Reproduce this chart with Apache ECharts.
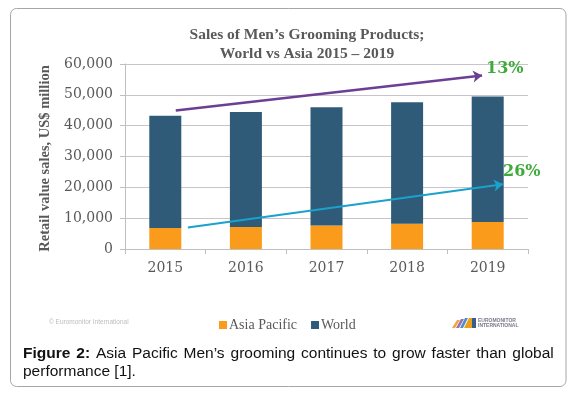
<!DOCTYPE html>
<html>
<head>
<meta charset="utf-8">
<script src="https://cdn.jsdelivr.net/npm/echarts@6/dist/echarts.min.js"></script>
<style>
  html, body { margin: 0; padding: 0; background: #fff; }
  #main { width: 574px; height: 394px; }
</style>
</head>
<body>
<div id="main"></div>
<script>
// values (US$ million)
const years = ['2015', '2016', '2017', '2018', '2019'];
const asiaPacific = [6800, 7100, 7600, 8200, 8750];
const worldRest = [36400, 37300, 38400, 39400, 40700];   // world total minus asia pacific
const yTicks = [0, 10000, 20000, 30000, 40000, 50000, 60000];

// trend arrows, x in category units (0 = 2015)
const worldTrend = [[0.13, 44900], [3.93, 56300]];
const asiaTrend = [[0.28, 7000], [4.19, 21000]];
const growthText = ['13%', '26%'];

const serif = '"DejaVu Serif", serif';
const times = '"Liberation Serif", serif';
const grey = '#595959';

const captionLine1 = ['{b|Figure}', '{b|2:}', 'Asia', 'Pacific', 'Men\u2019s', 'grooming',
    'continues', 'to', 'grow', 'faster', 'than', 'global'].join('{s| }');

const chart = echarts.init(document.getElementById('main'));

chart.setOption({
    animation: false,
    title: {
        text: 'Sales of Men\u2019s Grooming Products;\nWorld vs Asia 2015 \u2013 2019',
        left: 302,
        top: 20,
        textAlign: 'center',
        textStyle: { fontFamily: times, fontWeight: 'bold', fontSize: 15.5, color: grey, lineHeight: 19 }
    },
    legend: {
        data: ['Asia Pacific', 'World'],
        left: 214,
        top: 313,
        icon: 'rect',
        itemWidth: 8,
        itemHeight: 8,
        itemGap: 14,
        textStyle: { fontFamily: times, fontSize: 14, color: grey, padding: [0, 0, 0, -3] }
    },
    grid: { left: 125, right: 46, top: 64, bottom: 145 },
    xAxis: [{
        type: 'category',
        data: years,
        axisLine: { lineStyle: { color: '#bfbfbf' } },
        axisTick: { show: true, length: 5, lineStyle: { color: '#bfbfbf' } },
        axisLabel: { fontFamily: serif, fontSize: 14, color: grey, margin: 12 }
    }, {
        type: 'value',
        min: -0.5,
        max: 4.5,
        show: false
    }],
    yAxis: {
        type: 'value',
        min: 0,
        max: 60000,
        interval: 10000,
        name: 'Retail value sales, US$ million',
        nameLocation: 'middle',
        nameRotate: 90,
        nameGap: 72,
        nameTextStyle: { fontFamily: times, fontWeight: 'bold', fontSize: 14.5, color: grey, padding: [0, 4, 0, 0] },
        axisLine: { show: true, onZero: false, lineStyle: { color: '#bfbfbf' } },
        axisTick: { show: true, length: 5, lineStyle: { color: '#bfbfbf' } },
        splitLine: { lineStyle: { color: '#c9c3cc' } },
        axisLabel: {
            fontFamily: serif, fontSize: 14, color: grey, margin: 12,
            formatter: v => yTicks.includes(v) ? v.toLocaleString('en-US') : ''
        }
    },
    series: [{
        name: 'Asia Pacific',
        type: 'bar',
        stack: 'sales',
        barWidth: 32,
        itemStyle: { color: '#fb9b1b' },
        data: asiaPacific
    }, {
        name: 'World',
        type: 'bar',
        stack: 'sales',
        barWidth: 32,
        itemStyle: { color: '#2f5b78' },
        data: worldRest
    }, {
        type: 'lines',
        coordinateSystem: 'cartesian2d',
        xAxisIndex: 1,
        clip: false,
        symbol: ['none', 'arrow'],
        symbolSize: [7, 9],
        z: 5,
        label: {
            show: true,
            position: 'end',
            formatter: p => p.data.tag,
            fontFamily: serif,
            fontWeight: 'bold',
            fontSize: 16,
            color: '#3eaa3a'
        },
        data: [
            { coords: worldTrend, tag: growthText[0], lineStyle: { color: '#6c3f94', width: 2.5, opacity: 1 },
              label: { offset: [4, -7] } },
            { coords: asiaTrend, tag: growthText[1], lineStyle: { color: '#1aa2cc', width: 2, opacity: 1 },
              label: { offset: [0, -12] } }
        ]
    }],
    graphic: [{
        type: 'rect',
        shape: { x: 10.5, y: 8.5, width: 555.5, height: 378, r: 6 },
        style: { fill: 'none', stroke: '#a6a6a6', lineWidth: 1 },
        silent: true
    }, {
        type: 'text',
        left: 49,
        top: 319,
        style: { text: '\u00a9 Euromonitor International', font: '6.5px "Liberation Sans"', fill: '#bdbdbd' }
    }, {
        type: 'group',
        left: 452,
        top: 318,
        children: [
            { type: 'polygon', shape: { points: [[0, 10], [5, 2], [8, 2], [3, 10]] }, style: { fill: '#f4a340' } },
            { type: 'polygon', shape: { points: [[4, 10], [9, 1], [12, 1], [7, 10]] }, style: { fill: '#9b6fb5' } },
            { type: 'polygon', shape: { points: [[8, 10], [13, 0], [16, 0], [11, 10]] }, style: { fill: '#4e8fc9' } },
            { type: 'polygon', shape: { points: [[12, 10], [17, 0], [20, 0], [20, 10]] }, style: { fill: '#e6a21f' } },
            { type: 'polygon', shape: { points: [[20, 0], [24, 0], [24, 10], [20, 10]] }, style: { fill: '#3c5a8a' } },
            { type: 'text', x: 26, y: 0, style: { text: 'EUROMONITOR', font: 'bold 5px "Liberation Sans"', fill: '#7a7a8a' } },
            { type: 'text', x: 26, y: 5, style: { text: 'INTERNATIONAL', font: 'bold 5px "Liberation Sans"', fill: '#7a7a8a' } }
        ]
    }, {
        type: 'text',
        left: 23,
        top: 344,
        style: {
            text: captionLine1 + '\nperformance [1].',
            font: '15.5px "Liberation Sans"',
            fill: '#111',
            lineHeight: 18.5,
            rich: {
                b: { font: 'bold 15.5px "Liberation Sans"', fill: '#111' },
                s: { width: 5.9 }
            }
        }
    }]
});
</script>
</body>
</html>
